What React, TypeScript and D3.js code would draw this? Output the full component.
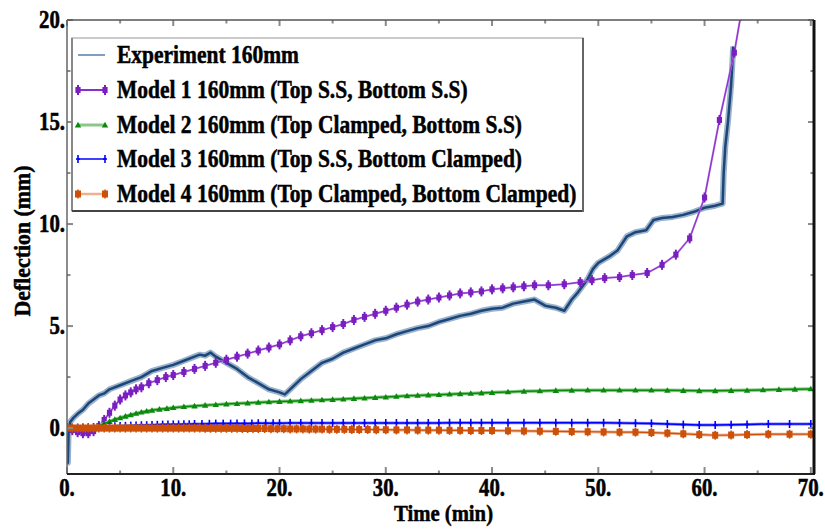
import React from "react";
import * as d3 from "d3";

const xTicks = [0, 10, 20, 30, 40, 50, 60, 70];
const yTicks = [0, 5, 10, 15, 20];

const expT = [0, 0.08, 0.15, 0.3, 0.6, 1, 1.5, 2, 2.5, 3, 3.5, 4, 5, 6, 7, 8, 9, 10, 11, 12, 12.5, 13, 13.5, 14, 15, 16, 17, 18, 19, 20, 20.5, 21, 22, 23, 24, 25, 26, 27, 28, 29, 30, 31, 32, 33, 34, 35, 36, 37, 38, 39, 40, 41, 42, 43, 44, 45, 46, 46.8, 47.5, 48, 49, 49.5, 50, 51, 51.8, 52.7, 53.5, 54.5, 55.2, 56, 57, 58, 59, 60, 61, 61.7, 61.8, 61.95, 62.2, 62.5, 62.7];
const expY = [0, -1.7, -0.2, 0.3, 0.5, 0.7, 0.9, 1.2, 1.4, 1.6, 1.7, 1.9, 2.1, 2.3, 2.5, 2.8, 2.95, 3.1, 3.3, 3.5, 3.6, 3.55, 3.7, 3.5, 3.2, 2.9, 2.5, 2.2, 1.9, 1.75, 1.65, 1.9, 2.4, 2.8, 3.2, 3.4, 3.7, 3.9, 4.1, 4.3, 4.4, 4.6, 4.75, 4.9, 5.0, 5.2, 5.35, 5.5, 5.6, 5.75, 5.85, 5.9, 6.1, 6.2, 6.3, 6.0, 5.9, 5.75, 6.3, 6.6, 7.3, 7.8, 8.1, 8.4, 8.7, 9.4, 9.6, 9.7, 10.2, 10.3, 10.35, 10.45, 10.6, 10.8, 10.9, 11.0, 12.5, 13.8, 15.0, 16.8, 18.7];

const m1T = [0, 0.5, 1, 1.5, 2, 2.5, 3, 3.5, 4, 4.5, 5, 5.5, 6, 6.5, 7, 7.7, 8.5, 9.3, 10, 11, 12, 13, 14, 15, 16, 17, 18, 19, 20, 21, 22, 23, 24, 25, 26, 27, 28, 29, 30, 31, 32, 33, 34, 35, 36, 37, 38, 39, 40, 41, 42, 43, 44, 45.3, 46.8, 48.3, 49.4, 50.6, 52, 53.2, 54.6, 56, 57.3, 58.6, 60, 61.4, 62.8, 63.4];
const m1Y = [0, -0.1, -0.2, -0.25, -0.25, -0.15, 0.1, 0.4, 0.75, 1.1, 1.4, 1.6, 1.75, 1.9, 2.0, 2.2, 2.35, 2.5, 2.6, 2.75, 2.9, 3.05, 3.2, 3.35, 3.5, 3.65, 3.8, 3.95, 4.1, 4.3, 4.5, 4.65, 4.8, 4.95, 5.1, 5.3, 5.45, 5.6, 5.75, 5.9, 6.05, 6.2, 6.3, 6.4, 6.5, 6.6, 6.65, 6.7, 6.8, 6.85, 6.9, 6.95, 7.0, 7.0, 7.05, 7.15, 7.25, 7.35, 7.4, 7.5, 7.6, 8.0, 8.5, 9.3, 11.3, 15.1, 18.4, 20.2];

const m2T = [0, 1, 2, 2.5, 3, 3.5, 4, 4.5, 5, 5.5, 6, 6.5, 7, 7.5, 8, 8.7, 9.4, 10, 11, 12, 13, 14, 15, 16, 17, 18, 19, 20, 21, 22, 23, 24, 25, 26, 27, 28, 29, 30, 31, 32, 33, 34, 35, 36, 37, 38, 39, 40, 41.5, 43, 44.5, 46, 47.5, 49, 50.5, 52, 53.5, 55, 56.5, 58, 59.5, 61, 62.5, 64, 65.5, 67, 68.5, 70];
const m2Y = [0, 0, 0.02, 0.05, 0.12, 0.22, 0.32, 0.42, 0.5, 0.58, 0.65, 0.72, 0.78, 0.83, 0.87, 0.92, 0.96, 1.0, 1.05, 1.08, 1.12, 1.15, 1.18, 1.2, 1.23, 1.26, 1.28, 1.3, 1.32, 1.34, 1.36, 1.38, 1.4, 1.42, 1.45, 1.47, 1.5, 1.52, 1.55, 1.58, 1.6, 1.62, 1.64, 1.66, 1.68, 1.7, 1.72, 1.74, 1.77, 1.8, 1.82, 1.84, 1.85, 1.86, 1.86, 1.86, 1.86, 1.86, 1.85, 1.84, 1.83, 1.83, 1.84, 1.85, 1.87, 1.89, 1.9, 1.92];

const m3T = [0, 0.5, 1, 1.5, 2, 2.5, 3, 3.5, 4, 4.5, 5, 5.5, 6, 6.5, 7, 7.5, 8, 8.5, 9, 9.5, 10, 10.5, 11, 11.5, 12, 12.7, 13.4, 14, 14.7, 15.4, 16, 16.7, 17.4, 18, 18.7, 19.4, 20, 21, 22, 23, 24, 25, 26, 27, 28, 29, 30, 31, 32, 33, 34, 35, 36, 37, 38, 39, 40, 41.5, 43, 44.5, 46, 47.5, 49, 50.5, 52, 53.5, 55, 56.5, 58, 59.5, 61, 62.5, 64, 66, 68, 70];
const m3Y = [0, 0.01, 0.02, 0.03, 0.04, 0.05, 0.06, 0.07, 0.08, 0.09, 0.1, 0.11, 0.12, 0.13, 0.14, 0.14, 0.15, 0.16, 0.17, 0.17, 0.18, 0.18, 0.19, 0.19, 0.2, 0.2, 0.21, 0.22, 0.22, 0.22, 0.23, 0.23, 0.23, 0.24, 0.24, 0.24, 0.24, 0.25, 0.25, 0.25, 0.25, 0.25, 0.25, 0.25, 0.25, 0.25, 0.25, 0.25, 0.25, 0.25, 0.25, 0.25, 0.26, 0.26, 0.26, 0.26, 0.26, 0.26, 0.26, 0.26, 0.26, 0.26, 0.26, 0.26, 0.25, 0.24, 0.23, 0.2, 0.17, 0.15, 0.15, 0.16, 0.18, 0.2, 0.2, 0.2];

const m4T = [0, 0.5, 1, 1.5, 2, 2.5, 3, 3.5, 4, 4.5, 5, 5.5, 6, 6.5, 7, 7.5, 8, 8.5, 9, 9.5, 10, 10.5, 11, 11.5, 12, 12.5, 13, 13.5, 14, 14.5, 15, 15.5, 16, 16.5, 17, 17.5, 18, 18.6, 19.2, 19.8, 20.4, 21, 21.6, 22.2, 22.8, 23.4, 24, 24.7, 25.4, 26.1, 26.8, 27.5, 28.3, 29.1, 30, 31, 32, 33, 34, 35, 36, 37, 38, 39, 40, 41.5, 43, 44.5, 46, 47.5, 49, 50.5, 52, 53.5, 55, 56.5, 58, 59.5, 61, 62.5, 64, 66, 68, 70];
const m4Y = [0, 0, 0, 0, 0, 0, 0, 0, 0, 0, 0, 0, 0, 0, 0, 0, 0, 0, 0, 0, 0, 0, 0, 0, 0, 0, -0.01, -0.01, -0.01, -0.01, -0.01, -0.01, -0.01, -0.02, -0.02, -0.02, -0.02, -0.02, -0.03, -0.03, -0.03, -0.04, -0.04, -0.04, -0.05, -0.05, -0.05, -0.06, -0.06, -0.06, -0.07, -0.07, -0.07, -0.08, -0.08, -0.09, -0.09, -0.1, -0.1, -0.1, -0.11, -0.11, -0.12, -0.12, -0.12, -0.13, -0.14, -0.15, -0.16, -0.17, -0.18, -0.19, -0.2, -0.2, -0.22, -0.25, -0.28, -0.32, -0.35, -0.34, -0.32, -0.3, -0.3, -0.3];

const legendLabels = [
  "Experiment 160mm",
  "Model 1 160mm (Top S.S, Bottom S.S)",
  "Model 2 160mm (Top Clamped, Bottom S.S)",
  "Model 3 160mm (Top S.S, Bottom Clamped)",
  "Model 4 160mm (Top Clamped, Bottom Clamped)",
];

const L = 67, R = 814, T = 20, B = 474;
const FONT = "'Liberation Serif', 'Times New Roman', serif";

function Marker({ kind, x, y }: { kind: number; x: number; y: number }) {
  if (kind === 1) {
    return (
      <g>
        <line x1={x} x2={x} y1={y - 5} y2={y + 5} stroke="#7a1fbf" strokeWidth={2} />
        <rect x={x - 2.6} y={y - 3} width={5.2} height={6} fill="#7a1fbf" />
      </g>
    );
  }
  if (kind === 2) {
    return <path d={`M${x},${y - 3.2}L${x + 3.2},${y + 2.4}L${x - 3.2},${y + 2.4}Z`} fill="#0a8a0a" />;
  }
  if (kind === 3) {
    return (
      <g stroke="#0000ff" strokeWidth={1.6}>
        <line x1={x} x2={x} y1={y - 4} y2={y + 4} />
        <line x1={x - 2} x2={x + 2} y1={y} y2={y} />
      </g>
    );
  }
  return (
    <g>
      <line x1={x} x2={x} y1={y - 4.5} y2={y + 4.5} stroke="#cc5008" strokeWidth={1.5} />
      <rect x={x - 3} y={y - 3.5} width={6} height={7} fill="#cc5008" />
    </g>
  );
}

export default function App() {
  const x = d3.scaleLinear().domain([0, 70.3]).range([L, R]);
  const y = d3.scaleLinear().domain([-2.25, 20]).range([B, T]);
  const line = d3
    .line<[number, number]>()
    .x((d) => x(d[0]))
    .y((d) => y(d[1]));

  const zip = (a: number[], b: number[]) => a.map((t, i) => [t, b[i]] as [number, number]);
  const exp = zip(expT, expY);
  const m1 = zip(m1T, m1Y);
  const m2 = zip(m2T, m2Y);
  const m3 = zip(m3T, m3Y);
  const m4 = zip(m4T, m4Y);

  const xMinor = d3.range(5, 70, 10);
  const yMinor = [2.5, 7.5, 12.5, 17.5];

  const legY = [55, 90, 125, 159, 194];

  return (
    <svg width={825} height={529} style={{ position: "absolute", left: 0, top: 0, background: "#fff" }}>
      <defs>
        <clipPath id="plot">
          <rect x={L} y={T} width={R - L} height={B - T} />
        </clipPath>
      </defs>

      <g clipPath="url(#plot)">
        {/* Experiment */}
        <path d={line(exp) || ""} fill="none" stroke="#9bb2cc" strokeWidth={6} strokeLinejoin="round" />
        <path d={line(exp) || ""} fill="none" stroke="#1b4677" strokeWidth={2.5} strokeLinejoin="round" />
        {/* Model 1 */}
        <path d={line(m1) || ""} fill="none" stroke="#b070e0" strokeWidth={2} />
        <path d={line(m1) || ""} fill="none" stroke="#8a2fcf" strokeWidth={1} />
        {m1.map((d, i) => <Marker key={"m1" + i} kind={1} x={x(d[0])} y={y(d[1])} />)}
        {/* Model 2 */}
        <path d={line(m2) || ""} fill="none" stroke="#8ac88a" strokeWidth={3.5} />
        <path d={line(m2) || ""} fill="none" stroke="#0a8a0a" strokeWidth={1.5} />
        {m2.map((d, i) => <Marker key={"m2" + i} kind={2} x={x(d[0])} y={y(d[1])} />)}
        {/* Model 3 */}
        <path d={line(m3) || ""} fill="none" stroke="#8080ff" strokeWidth={3} />
        <path d={line(m3) || ""} fill="none" stroke="#0000ff" strokeWidth={1.5} />
        {m3.map((d, i) => <Marker key={"m3" + i} kind={3} x={x(d[0])} y={y(d[1])} />)}
        {/* Model 4 */}
        <path d={line(m4) || ""} fill="none" stroke="#eeb090" strokeWidth={3} />
        <path d={line(m4) || ""} fill="none" stroke="#cc5008" strokeWidth={1.2} />
        {m4.map((d, i) => <Marker key={"m4" + i} kind={4} x={x(d[0])} y={y(d[1])} />)}
      </g>

      {/* ticks */}
      <g stroke="#8a8a8a" strokeWidth={2}>
        {xTicks.map((t) => (
          <g key={"xt" + t}>
            <line x1={x(t)} x2={x(t)} y1={B} y2={B - 7} />
            <line x1={x(t)} x2={x(t)} y1={T} y2={T + 6} />
          </g>
        ))}
        {xMinor.map((t) => (
          <g key={"xm" + t}>
            <line x1={x(t)} x2={x(t)} y1={B} y2={B - 3.5} />
            <line x1={x(t)} x2={x(t)} y1={T} y2={T + 3.5} />
          </g>
        ))}
        {yTicks.map((t) => (
          <g key={"yt" + t}>
            <line x1={L} x2={L + 6} y1={y(t)} y2={y(t)} />
            <line x1={R} x2={R - 6} y1={y(t)} y2={y(t)} />
          </g>
        ))}
        {yMinor.map((t) => (
          <g key={"ym" + t}>
            <line x1={L} x2={L + 3.5} y1={y(t)} y2={y(t)} />
            <line x1={R} x2={R - 3.5} y1={y(t)} y2={y(t)} />
          </g>
        ))}
      </g>

      {/* frame */}
      <line x1={L} x2={R} y1={T} y2={T} stroke="#555" strokeWidth={1.5} />
      <line x1={L} x2={L} y1={T} y2={B} stroke="#666" strokeWidth={1.5} />
      <line x1={L} x2={R + 1} y1={B} y2={B} stroke="#222" strokeWidth={2} />
      <line x1={R} x2={R} y1={T} y2={B} stroke="#111" strokeWidth={3} />

      {/* tick labels */}
      <g fontFamily={FONT} fontWeight="bold" fontSize={26} fill="#000" stroke="#000" strokeWidth={0.6}>
        {xTicks.map((t) => (
          <text key={"xl" + t} transform={`translate(${x(t)},${B + 22}) scale(0.8,1)`} textAnchor="middle">
            {t}.
          </text>
        ))}
        {yTicks.map((t) => (
          <text key={"yl" + t} transform={`translate(${L - 2},${y(t) + 8}) scale(0.8,1)`} textAnchor="end">
            {t}.
          </text>
        ))}
      </g>

      {/* axis titles */}
      <text
        transform={`translate(${(L + R) / 2 + 3},${521}) scale(0.9,1)`}
        textAnchor="middle"
        fontFamily={FONT}
        fontWeight="bold"
        fontSize={23}
        stroke="#000"
        strokeWidth={0.5}
      >
        Time (min)
      </text>
      <text
        transform={`translate(${30},${241}) rotate(-90) scale(0.95,1)`}
        textAnchor="middle"
        fontFamily={FONT}
        fontWeight="bold"
        fontSize={23}
        stroke="#000"
        strokeWidth={0.5}
      >
        Deflection (mm)
      </text>

      {/* legend */}
      <rect x={72} y={38} width={511} height={173} fill="#fff" stroke="#bbb" strokeWidth={1.5} />
      <line x1={72} x2={72} y1={38} y2={211} stroke="#888" strokeWidth={2} />
      <line x1={72} x2={584} y1={211} y2={211} stroke="#444" strokeWidth={2} />
      <line x1={583} x2={583} y1={38} y2={212} stroke="#666" strokeWidth={2} />
      <g>
        <line x1={78} x2={105} y1={legY[0]} y2={legY[0]} stroke="#7f9ec0" strokeWidth={2} />
        <line x1={78} x2={105} y1={legY[1]} y2={legY[1]} stroke="#8a2fcf" strokeWidth={2} />
        <Marker kind={1} x={78} y={legY[1]} />
        <Marker kind={1} x={105} y={legY[1]} />
        <line x1={78} x2={105} y1={legY[2]} y2={legY[2]} stroke="#8ac88a" strokeWidth={3} />
        <Marker kind={2} x={78} y={legY[2]} />
        <Marker kind={2} x={105} y={legY[2]} />
        <line x1={78} x2={105} y1={legY[3]} y2={legY[3]} stroke="#0000ff" strokeWidth={1.5} />
        <Marker kind={3} x={78} y={legY[3]} />
        <Marker kind={3} x={105} y={legY[3]} />
        <line x1={78} x2={105} y1={legY[4]} y2={legY[4]} stroke="#eeb090" strokeWidth={2.5} />
        <Marker kind={4} x={78} y={legY[4]} />
        <Marker kind={4} x={105} y={legY[4]} />
      </g>
      <g fontFamily={FONT} fontWeight="bold" fontSize={25} fill="#000" stroke="#000" strokeWidth={0.5}>
        {legendLabels.map((s, i) => (
          <text key={"lg" + i} transform={`translate(117,${legY[i] + 8}) scale(0.86,1)`}>
            {s}
          </text>
        ))}
      </g>
    </svg>
  );
}
